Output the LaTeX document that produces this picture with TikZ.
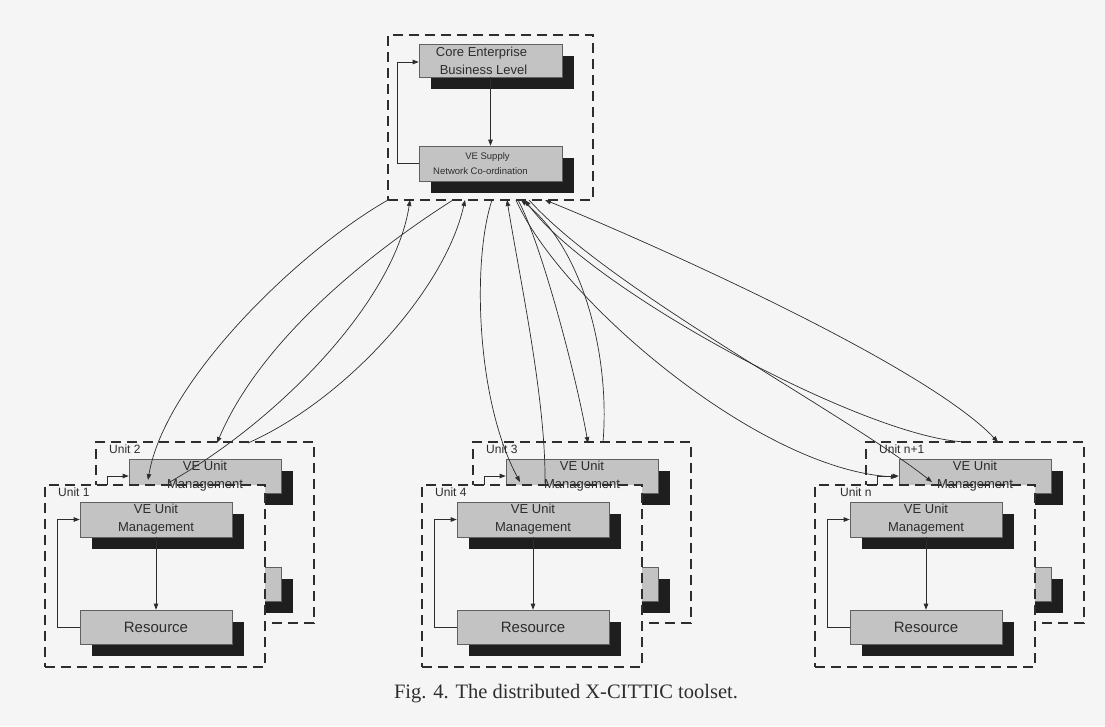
\documentclass[tikz,border=0pt]{standalone}
\usepackage{fontspec}
\setmainfont{Liberation Serif}
\setsansfont{Liberation Sans}
\usetikzlibrary{arrows.meta,shadows}
\definecolor{bg}{RGB}{245,245,245}
\definecolor{boxfill}{RGB}{195,195,195}
\definecolor{shade}{RGB}{30,30,30}
\definecolor{ink}{RGB}{45,45,45}
\tikzset{
  box/.style={draw=gray!75!black, line width=0.6pt, fill=boxfill, inner sep=0pt,
    align=center, text=ink, font=\sffamily\fontsize{13}{18}\selectfont,
    drop shadow={shadow xshift=12pt, shadow yshift=-12pt, fill=shade, opacity=1}},
  ubox/.style={draw=ink, line width=1.6pt, dash pattern=on 10pt off 6pt, fill=bg, inner sep=0pt},
  lbl/.style={font=\sffamily\fontsize{12}{12}\selectfont, text=ink, inner sep=0pt},
  vetext/.style={font=\sffamily\fontsize{13}{18}\selectfont, text=ink, align=center, inner sep=0pt},
  flow/.style={draw=ink, line width=0.7pt, -{Triangle[length=6pt,width=4.5pt]}},
  conn/.style={draw=ink, line width=0.7pt},
  tip/.style={-{Triangle[length=6pt,width=4.5pt]}},
  tips/.style={{Triangle[length=6pt,width=4.5pt]}-{Triangle[length=6pt,width=4.5pt]}}
}
\newcommand{\unitgroup}[5]{%
\begin{scope}[xshift=#1pt]
  \node[ubox, minimum width=218pt, minimum height=181pt] (#2b) at (205,532.5) {};
  \node[box, minimum width=152pt, minimum height=34pt] (#2bv) at (205,476) {};
  \node[box, minimum width=152pt, minimum height=34pt] (#2br) at (205,584) {};
  \draw[flow] (#2br.west) -- ++(-21,0) |- (#2bv.west);
  \draw[flow] (#2bv.south) -- (#2br.north);
  \node[ubox, minimum width=220pt, minimum height=182pt] (#2f) at (155,576) {};
  \node[box, minimum width=152pt, minimum height=35pt] (#2fv) at (156,519.5) {VE Unit\\Management};
  \node[box, minimum width=152pt, minimum height=34pt, font=\sffamily\fontsize{15}{18}\selectfont] (#2fr) at (156,627) {Resource};
  \draw[flow] (#2fr.west) -- ++(-22,0) |- (#2fv.west);
  \draw[flow] (#2fv.south) -- (#2fr.north);
  \node[lbl, anchor=west] (#2bl) at (109,449) {#3};
  \node[lbl, anchor=west] (#2fl) at (#5,492) {#4};
  \node[vetext] (#2bt) at (#2bv) {VE Unit\\Management};
\end{scope}}
\begin{document}
\begin{tikzpicture}[x=1pt,y=-1pt]
\useasboundingbox (0,0) rectangle (1105,726);
\fill[bg] (0,0) rectangle (1105,726);

% top group
\node[ubox, minimum width=205pt, minimum height=165pt] (top) at (490.5,117.5) {};
\node[box, minimum width=143pt, minimum height=33pt] (core) at (490.5,60.5)
  {Core Enterprise\hspace*{18pt}\\Business Level\hspace*{14pt}};
\node[box, minimum width=143pt, minimum height=35pt, font=\sffamily\fontsize{9.5}{15}\selectfont] (sup) at (490.5,163.5)
  {VE Supply\hspace*{6pt}\\Network Co-ordination\hspace*{20pt}};
\draw[flow] (core.south) -- (sup.north);
\draw[flow] (sup.west) -- ++(-21,0) |- ([yshift=-1.5pt]core.west);

% unit groups
\unitgroup{0}{g}{Unit 2}{Unit 1}{58}
\unitgroup{377}{h}{Unit 3}{Unit 4}{58}
\unitgroup{770}{k}{Unit n+1}{Unit n}{70}

% end points
\coordinate (t1) at (388,200);
\coordinate (t2) at (410,200);
\coordinate (t3) at (453,200);
\coordinate (t4) at (465,200);
\coordinate (t5) at (492,200);
\coordinate (t6) at (507,200);
\coordinate (t7) at (518,200);
\coordinate (t8) at (521,200);
\coordinate (t9) at (545,200);
\coordinate (t10) at (525,200);
\coordinate (t11) at (516,200);
\coordinate (t12) at (529,200);
\coordinate (a1) at (148,480);
\coordinate (a2) at (168,483);
\coordinate (a3) at (217,443);
\coordinate (a4) at (248,443);
\coordinate (a5) at (520,482);
\coordinate (a6) at (545,483);
\coordinate (a7) at (588,443);
\coordinate (a8) at (603,442);
\coordinate (a9) at (998,442);
\coordinate (a10) at (967,442);
\coordinate (a11) at (897,477);
\coordinate (a12) at (932,482);

\draw[conn,tip] (t1) .. controls (300,250) and (165,380) .. (a1);
\draw[conn,tip] (a2) .. controls (280,420) and (395,300) .. (t2);
\draw[conn,tip] (t3) .. controls (390,240) and (265,330) .. (a3);
\draw[conn,tip] (a4) .. controls (345,400) and (445,290) .. (t4);
\draw[conn,tip] (t5) .. controls (472,260) and (476,400) .. (a5);
\draw[conn,tip] (a6) .. controls (546,400) and (520,280) .. (t6);
\draw[conn,tip] (t7) .. controls (540,240) and (575,370) .. (a7);
\draw[conn,tip] (a8) .. controls (610,360) and (585,250) .. (t8);
\draw[conn,tips] (t9) .. controls (620,230) and (920,360) .. (a9);
\draw[conn,tip] (a10) .. controls (870,440) and (590,290) .. (t10);
\draw[conn,tip] (t11) .. controls (560,300) and (760,470) .. (a11);
\draw[conn,tip] (t12) .. controls (610,290) and (840,410) .. (a12);

% caption
\node[font=\fontsize{20.5}{23}\selectfont, text=ink, inner sep=0pt] (cap) at (566,694)
  {Fig. 4. The distributed X-CITTIC toolset.};
\end{tikzpicture}
\end{document}
